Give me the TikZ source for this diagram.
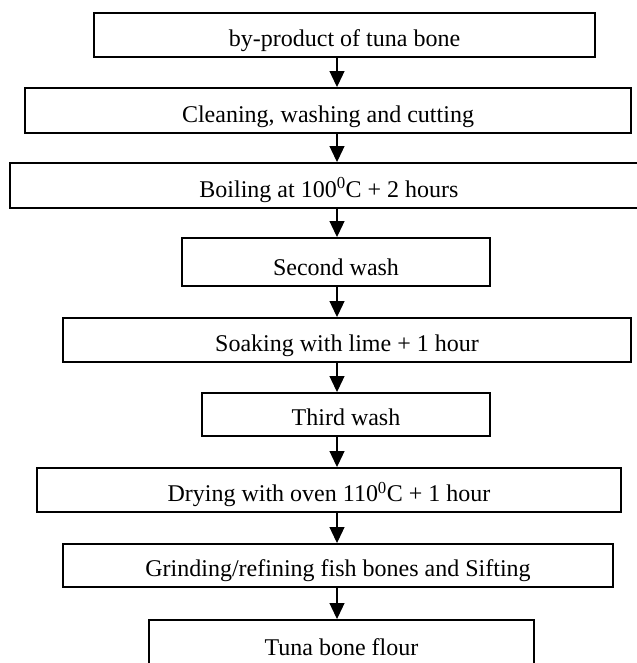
\documentclass[tikz,border=0pt]{standalone}
\usepackage{fontspec}
\setmainfont{Liberation Serif}
\usetikzlibrary{arrows.meta}

\begin{document}
\begin{tikzpicture}[x=1bp, y=1bp,
  stepbox/.style={draw, line width=1.9bp, inner sep=0pt, text depth=10bp,
    font=\fontsize{24bp}{28bp}\selectfont},
  flow/.style={-{Triangle[width=15bp,length=16bp]}, line width=1.1bp}]

\useasboundingbox (0,0) rectangle (637,663);

% process steps, top to bottom

\path
(344.5,628) node[stepbox, minimum width=501bp, minimum height=44bp, text height=34bp] (bone) {by-product of tuna bone}
(328,552.5) node[stepbox, minimum width=606bp, minimum height=45bp, text height=35bp] (clean) {Cleaning, washing and cutting}
(329,477.5) node[stepbox, minimum width=638bp, minimum height=45bp, text height=35bp] (boil) {Boiling at 100\textsuperscript{0}C + 2 hours}
(336,401)   node[stepbox, minimum width=308bp, minimum height=48bp, text height=38bp] (washtwo) {Second wash}
(347,323)   node[stepbox, minimum width=568bp, minimum height=44bp, text height=34bp] (soak) {Soaking with lime + 1 hour}
(346,248.5) node[stepbox, minimum width=288bp, minimum height=43bp, text height=33bp] (washthree) {Third wash}
(329,173)   node[stepbox, minimum width=584bp, minimum height=44bp, text height=34bp] (dry) {Drying with oven 110\textsuperscript{0}C + 1 hour}
(338,97.5)  node[stepbox, minimum width=550bp, minimum height=43bp, text height=33bp] (grind) {Grinding/refining fish bones and Sifting}
(341.5,20)  node[stepbox, minimum width=385bp, minimum height=46bp, text height=36bp] (flour) {Tuna bone flour};

% arrows on one vertical line
\coordinate (axis) at (337,0);
\draw[flow] (bone.south -| axis) -- (clean.north -| axis);
\draw[flow] (clean.south -| axis) -- (boil.north -| axis);
\draw[flow] (boil.south -| axis) -- (washtwo.north -| axis);
\draw[flow] (washtwo.south -| axis) -- (soak.north -| axis);
\draw[flow] (soak.south -| axis) -- (washthree.north -| axis);
\draw[flow] (washthree.south -| axis) -- (dry.north -| axis);
\draw[flow] (dry.south -| axis) -- (grind.north -| axis);
\draw[flow] (grind.south -| axis) -- (flour.north -| axis);

\end{tikzpicture}
\end{document}
